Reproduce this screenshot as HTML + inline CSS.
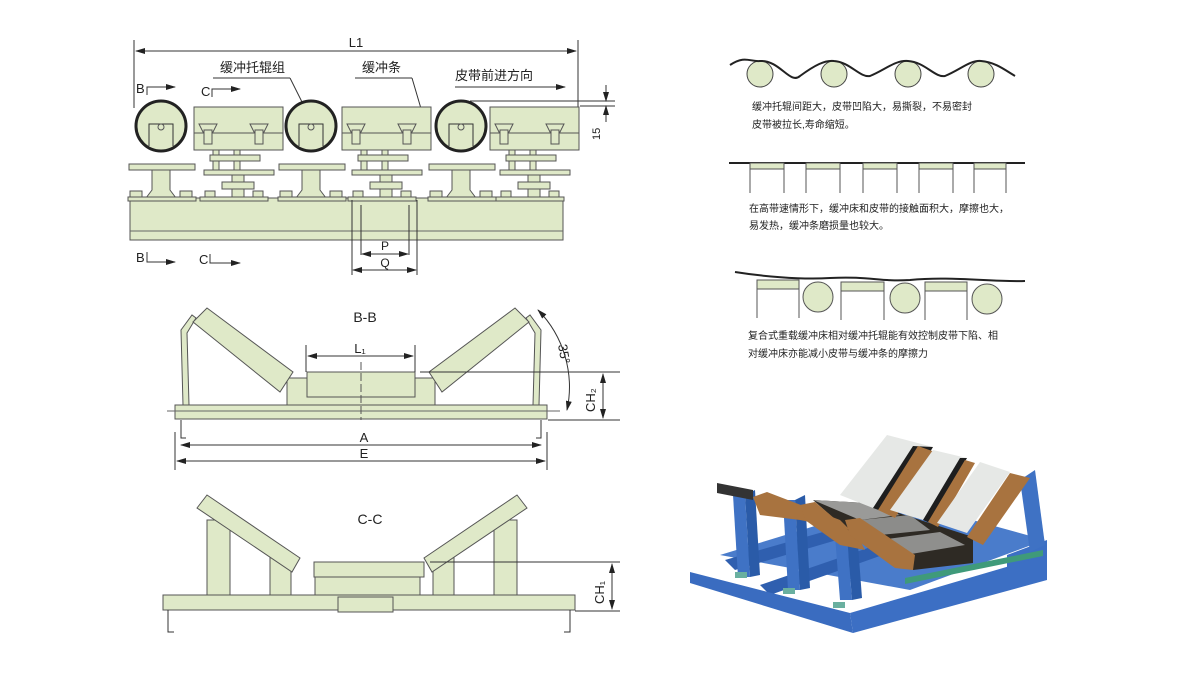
<!DOCTYPE html>
<html><head><meta charset="utf-8"><style>
body{margin:0;background:#fff}
svg{display:block}
text{font-family:"Liberation Sans","Noto Sans CJK SC",sans-serif;fill:#222}
.g{fill:#dfe9c8;stroke:#555;stroke-width:1}
.k{stroke:#333;stroke-width:1;fill:none}
.t{font-size:10px}
</style></head><body>
<svg width="1200" height="678" viewBox="0 0 1200 678">
<defs><marker id="a" markerWidth="10" markerHeight="6" refX="9" refY="3" orient="auto"><path d="M0,0L10,3L0,6z" fill="#222"/></marker>
<marker id="b" markerWidth="10" markerHeight="6" refX="1" refY="3" orient="auto"><path d="M10,0L0,3L10,6z" fill="#222"/></marker></defs>

<!-- TOP VIEW -->
<line x1="134" y1="40" x2="134" y2="108" class="k"/><line x1="578" y1="40" x2="578" y2="108" class="k"/>
<line x1="136" y1="51" x2="576" y2="51" class="k" marker-start="url(#b)" marker-end="url(#a)"/>
<text x="356" y="47" font-size="13" text-anchor="middle">L1</text>
<text x="220" y="72" font-size="13">缓冲托辊组</text>
<text x="362" y="72" font-size="13">缓冲条</text>
<text x="455" y="80" font-size="13">皮带前进方向</text>
<line x1="455" y1="87" x2="565" y2="87" class="k" marker-end="url(#a)"/>
<line x1="213" y1="78" x2="290" y2="78" class="k"/><line x1="290" y1="78" x2="307" y2="112" class="k"/>
<line x1="355" y1="78" x2="412" y2="78" class="k"/><line x1="412" y1="78" x2="422" y2="112" class="k"/>
<text x="136" y="93" font-size="13">B</text><path d="M147,95V87H175" class="k" marker-end="url(#a)"/>
<text x="201" y="96" font-size="13">C</text><path d="M212,97V89H240" class="k" marker-end="url(#a)"/>
<line x1="470" y1="101" x2="615" y2="101" class="k"/><line x1="580" y1="106" x2="615" y2="106" class="k"/>
<line x1="606" y1="85" x2="606" y2="101" class="k" marker-end="url(#a)"/><line x1="606" y1="122" x2="606" y2="106" class="k" marker-end="url(#a)"/>
<text x="600" y="140" font-size="11" transform="rotate(-90 600 140)">15</text>
<rect x="130" y="198" width="433" height="42" class="g"/><line x1="130" y1="231" x2="563" y2="231" stroke="#666"/>
<g id="roll">
<rect x="129" y="164" width="66" height="6" class="g"/>
<path d="M152,170h18v20l6,8h-30l6,-8z" class="g"/>
<circle cx="161" cy="126" r="25" fill="#dfe9c8" stroke="#222" stroke-width="3"/>
<path d="M149,146V124h24v22" class="k"/><circle cx="161" cy="127" r="3" class="g"/>
<rect x="130" y="191" width="12" height="8" class="g"/><rect x="180" y="191" width="12" height="8" class="g"/>
<rect x="128" y="197" width="68" height="4" class="g"/>
</g>
<use href="#roll" x="150"/><use href="#roll" x="300"/>
<g id="bx">
<rect x="194" y="107" width="89" height="43" class="g" stroke="#222" stroke-width="1.5"/>
<line x1="194" y1="133" x2="283" y2="133" stroke="#555"/>
<path d="M199,124h18l-4,8h-10z M250,124h18l-4,8h-10z" class="g"/>
<rect x="204" y="130" width="8" height="14" class="g"/><rect x="255" y="130" width="8" height="14" class="g"/>
<rect x="213" y="150" width="6" height="20" class="g"/><rect x="234" y="150" width="6" height="20" class="g"/>
<rect x="210" y="155" width="50" height="6" class="g"/>
<rect x="204" y="170" width="70" height="5" class="g"/>
<rect x="232" y="175" width="12" height="22" class="g"/><rect x="222" y="182" width="32" height="7" class="g"/>
<rect x="205" y="191" width="10" height="8" class="g"/><rect x="253" y="191" width="10" height="8" class="g"/>
<rect x="200" y="197" width="68" height="4" class="g"/>
</g>
<use href="#bx" x="148"/><use href="#bx" x="296"/>
<line x1="352" y1="200" x2="352" y2="275" class="k"/><line x1="417" y1="200" x2="417" y2="275" class="k"/>
<line x1="361" y1="205" x2="361" y2="255" class="k"/><line x1="409" y1="205" x2="409" y2="255" class="k"/>
<line x1="362" y1="254" x2="408" y2="254" class="k" marker-start="url(#b)" marker-end="url(#a)"/>
<line x1="353" y1="270" x2="416" y2="270" class="k" marker-start="url(#b)" marker-end="url(#a)"/>
<text x="385" y="250" font-size="12" text-anchor="middle">P</text><text x="385" y="267" font-size="12" text-anchor="middle">Q</text>
<text x="136" y="262" font-size="13">B</text><path d="M147,252V262H175" class="k" marker-end="url(#a)"/>
<text x="199" y="264" font-size="13">C</text><path d="M210,254V263H240" class="k" marker-end="url(#a)"/>

<!-- B-B -->
<text x="365" y="322" font-size="14" text-anchor="middle">B-B</text>
<path d="M183,405L181,330L192,315L196,318L187,333L189,405z" class="g"/>
<path d="M539,405L541,330L530,315L526,318L535,333L533,405z" class="g"/>
<rect x="287" y="378" width="148" height="27" class="g"/>
<rect x="175" y="405" width="372" height="14" class="g"/><line x1="167" y1="411" x2="560" y2="411" stroke="#666"/>
<polygon points="193,322 207,308 293,372 280,392" class="g" stroke="#333"/>
<polygon points="529,322 515,308 429,372 442,392" class="g" stroke="#333"/>
<rect x="307" y="372" width="108" height="25" class="g" stroke="#222" stroke-width="1.5"/>
<line x1="361" y1="362" x2="361" y2="420" stroke="#555" stroke-dasharray="8,3"/>
<line x1="306" y1="345" x2="306" y2="372" class="k"/><line x1="415" y1="345" x2="415" y2="372" class="k"/>
<line x1="308" y1="356" x2="413" y2="356" class="k" marker-start="url(#b)" marker-end="url(#a)"/>
<text x="360" y="353" font-size="13" text-anchor="middle">L₁</text>
<path d="M181,420v18h5 M541,420v18h-5" class="k"/>
<line x1="175" y1="432" x2="175" y2="470" class="k"/><line x1="547" y1="432" x2="547" y2="470" class="k"/>
<line x1="181" y1="445" x2="541" y2="445" class="k" marker-start="url(#b)" marker-end="url(#a)"/>
<line x1="177" y1="461" x2="545" y2="461" class="k" marker-start="url(#b)" marker-end="url(#a)"/>
<text x="364" y="442" font-size="13" text-anchor="middle">A</text><text x="364" y="458" font-size="13" text-anchor="middle">E</text>
<line x1="420" y1="372" x2="620" y2="372" class="k"/><line x1="548" y1="420" x2="620" y2="420" class="k"/>
<line x1="603" y1="374" x2="603" y2="418" class="k" marker-start="url(#b)" marker-end="url(#a)"/>
<text x="595" y="412" font-size="13" transform="rotate(-90 595 412)">CH₂</text>
<path d="M538,310 A110,110 0 0 1 567,410" class="k" marker-start="url(#b)" marker-end="url(#a)"/>
<text x="558" y="345" font-size="13" transform="rotate(80 558 345)">35°</text>

<!-- C-C -->
<text x="370" y="524" font-size="14" text-anchor="middle">C-C</text>
<polygon points="207,520 230,520 230,595 207,595" class="g"/>
<polygon points="270,555 291,555 291,595 270,595" class="g"/>
<polygon points="517,520 494,520 494,595 517,595" class="g"/>
<polygon points="454,555 433,555 433,595 454,595" class="g"/>
<polygon points="197,508 207,495 300,558 292,572" class="g" stroke="#333"/>
<polygon points="527,508 517,495 424,558 432,572" class="g" stroke="#333"/>
<rect x="315" y="577" width="105" height="18" class="g"/>
<rect x="314" y="562" width="110" height="15" class="g" stroke="#222" stroke-width="1.5"/>
<rect x="163" y="595" width="412" height="15" class="g"/>
<rect x="338" y="597" width="55" height="15" class="g"/>
<path d="M168,610v22h6 M570,610v22h-6" class="k"/>
<line x1="430" y1="562" x2="620" y2="562" class="k"/><line x1="575" y1="611" x2="620" y2="611" class="k"/>
<line x1="612" y1="564" x2="612" y2="609" class="k" marker-start="url(#b)" marker-end="url(#a)"/>
<text x="604" y="604" font-size="13" transform="rotate(-90 604 604)">CH₁</text>

<!-- RIGHT DIAGRAMS -->
<g fill="#dfe9c8" stroke="#444">
<circle cx="760" cy="74" r="13"/><circle cx="834" cy="74" r="13"/><circle cx="908" cy="74" r="13"/><circle cx="981" cy="74" r="13"/>
</g>
<path d="M730,65 C745,55 750,62 760,61 C780,60 790,85 800,76 C815,65 825,60 834,61 C850,62 860,78 870,76 C885,70 895,60 908,61 C925,62 935,78 945,76 C960,70 970,60 981,61 C995,62 1005,70 1015,76" stroke="#222" stroke-width="2" fill="none"/>
<text x="752" y="110" class="t">缓冲托辊间距大，皮带凹陷大，易撕裂，不易密封</text>
<text x="752" y="128" class="t">皮带被拉长,寿命缩短。</text>
<line x1="729" y1="163" x2="1025" y2="163" stroke="#222" stroke-width="2"/>
<g fill="#dfe9c8" stroke="#555"><rect x="750" y="163" width="34" height="6"/><rect x="806" y="163" width="34" height="6"/><rect x="863" y="163" width="34" height="6"/><rect x="919" y="163" width="34" height="6"/><rect x="974" y="163" width="32" height="6"/></g>
<g stroke="#555"><path d="M750,163v30M784,163v30M806,163v30M840,163v30M863,163v30M897,163v30M919,163v30M953,163v30M974,163v30M1006,163v30"/></g>
<text x="749" y="212" class="t">在高带速情形下，缓冲床和皮带的接触面积大，摩擦也大，</text>
<text x="749" y="229" class="t">易发热，缓冲条磨损量也较大。</text>
<path d="M735,272 C760,276 800,280 830,278 C870,276 880,282 910,280 C950,276 990,282 1025,281" stroke="#222" stroke-width="2" fill="none"/>
<g fill="#dfe9c8" stroke="#555"><rect x="757" y="280" width="42" height="9"/><rect x="841" y="282" width="43" height="9"/><rect x="925" y="282" width="42" height="9"/>
<circle cx="818" cy="297" r="15"/><circle cx="905" cy="298" r="15"/><circle cx="987" cy="299" r="15"/>
<path d="M757,280v38M799,280v38M841,282v38M884,282v38M925,282v38M967,282v38" fill="none"/></g>
<text x="748" y="339" class="t">复合式重载缓冲床相对缓冲托辊能有效控制皮带下陷、相</text>
<text x="748" y="357" class="t">对缓冲床亦能减小皮带与缓冲条的摩擦力</text>

<!-- 3D -->
<!-- back beams -->
<polygon points="1007,555 1047,540 1047,580 1007,575" fill="#3c6fc4"/>
<polygon points="720,555 900,500 1045,540 910,590" fill="#4a7ccb"/>
<polygon points="725,560 900,510 905,520 735,570" fill="#2f5faf"/>
<polygon points="760,585 920,530 925,540 770,595" fill="#2f5faf"/>
<!-- posts -->
<polygon points="733,495 745,495 750,577 738,577" fill="#3f72c4"/>
<polygon points="745,495 755,490 760,575 750,577" fill="#2a5ba8"/>
<polygon points="783,500 795,500 800,590 788,590" fill="#3f72c4"/>
<polygon points="795,500 805,495 810,588 800,590" fill="#2a5ba8"/>
<polygon points="833,510 845,510 852,600 840,600" fill="#3f72c4"/>
<polygon points="845,510 855,505 862,598 852,600" fill="#2a5ba8"/>
<polygon points="1020,480 1035,470 1045,545 1030,552" fill="#3f72c4"/>
<!-- green strip -->
<polygon points="905,578 1043,550 1043,556 905,584" fill="#3f9a7a"/>
<!-- front beams -->
<polygon points="690,572 850,613 853,633 690,583" fill="#3a6cc0"/>
<polygon points="850,613 1047,555 1047,580 853,633" fill="#3c6fc4"/>
<!-- troughs -->
<polygon points="717,483 753,490 753,500 717,493" fill="#333"/>
<polygon points="767,500 803,507 803,517 767,510" fill="#333"/>
<polygon points="815,512 850,519 850,529 815,522" fill="#333"/>
<!-- dark center -->
<polygon points="813,500 867,503 973,537 973,563 913,570 847,530" fill="#2e2a24"/>
<polygon points="813,500 867,503 900,515 860,520" fill="#9a9a98"/>
<polygon points="860,520 910,515 930,530 880,535" fill="#8c8c8a"/>
<polygon points="880,540 940,532 965,545 905,555" fill="#8f8f8d"/>
<!-- brown lower bands -->
<polygon points="753,497 767,492 840,520 850,530 800,520 760,515" fill="#a8733f"/>
<polygon points="800,505 815,502 860,540 865,550 840,545 805,520" fill="#a8733f"/>
<polygon points="845,520 860,518 915,555 913,570 895,568 850,535" fill="#a8733f"/>
<!-- white plates and brown strips -->
<polygon points="840,495 887,435 933,447 873,508" fill="#e6e8e6"/>
<polygon points="873,508 913,446 933,447 893,515" fill="#1e1e1e"/>
<polygon points="878,510 918,446 935,452 895,518" fill="#a8733f"/>
<polygon points="890,510 933,450 967,458 923,520" fill="#e6e8e6"/>
<polygon points="923,520 960,458 967,458 930,523" fill="#1e1e1e"/>
<polygon points="928,522 965,460 975,463 938,527" fill="#a8733f"/>
<polygon points="937,523 980,462 1010,472 967,533" fill="#e6e8e6"/>
<polygon points="967,537 1010,473 1030,478 983,545" fill="#a8733f"/>
<rect x="735" y="572" width="12" height="6" fill="#6ab0a0"/>
<rect x="783" y="588" width="12" height="6" fill="#6ab0a0"/>
<rect x="833" y="602" width="12" height="6" fill="#6ab0a0"/>
</svg>
</body></html>
